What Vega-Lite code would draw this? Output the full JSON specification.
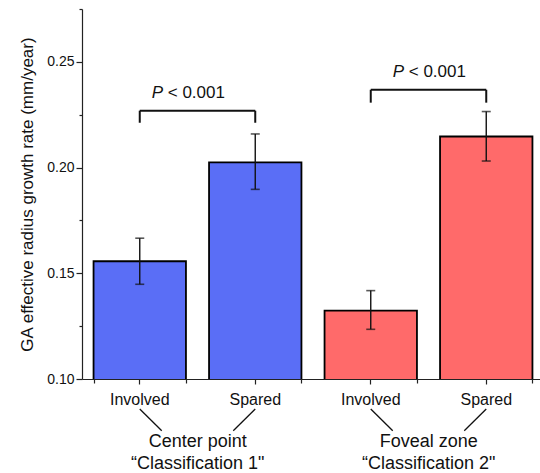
{
  "$schema": "https://vega.github.io/schema/vega-lite/v6.json",
  "width": 462,
  "height": 370,
  "autosize": {"type": "none"},
  "padding": {"left": 82, "top": 9, "right": 0, "bottom": 94},
  "background": "white",
  "config": {"view": {"stroke": null}, "font": "Liberation Sans"},
  "datasets": {
    "bars": [
      {"key": "C1 Involved", "group": "C1", "rate": 0.1557, "lo": 0.1448, "hi": 0.1666},
      {"key": "C1 Spared", "group": "C1", "rate": 0.2025, "lo": 0.1897, "hi": 0.2159},
      {"key": "C2 Involved", "group": "C2", "rate": 0.1323, "lo": 0.1235, "hi": 0.1418},
      {"key": "C2 Spared", "group": "C2", "rate": 0.2147, "lo": 0.2031, "hi": 0.2265}
    ],
    "brackets": [
      {"a": "C1 Involved", "b": "C1 Spared", "ytop": 0.2269, "yend": 0.2212, "ytext": 0.2352},
      {"a": "C2 Involved", "b": "C2 Spared", "ytop": 0.2368, "yend": 0.2307, "ytext": 0.2451}
    ],
    "groups": [
      {"a": "C1 Involved", "b": "C1 Spared", "line1": "Center point", "line2": "\u201cClassification 1\"", "y1": 0.0858, "y2": 0.0755, "yl1": 0.0703, "yl2": 0.0598},
      {"a": "C2 Involved", "b": "C2 Spared", "line1": "Foveal zone", "line2": "\u201cClassification 2\"", "y1": 0.0858, "y2": 0.0755, "yl1": 0.0703, "yl2": 0.0598}
    ]
  },
  "resolve": {"axis": {"x": "independent"}},
  "layer": [
    {
      "data": {"name": "bars"},
      "mark": {"type": "bar", "stroke": "black", "strokeWidth": 1.8, "clip": true},
      "encoding": {
        "x": {
          "field": "key", "type": "nominal", "sort": null,
          "scale": {"domain": ["C1 Involved", "C1 Spared", "C2 Involved", "C2 Spared"], "paddingInner": 0.2, "paddingOuter": 0.1},
          "axis": {
            "title": null, "labelAngle": 0, "labelExpr": "split(datum.label, ' ')[1]", "orient": "bottom",
            "labelFontSize": 16, "labelColor": "#111", "labelPadding": 7,
            "tickSize": 5, "tickColor": "#222", "domainColor": "#222", "domainWidth": 1.2, "tickWidth": 1.2
          }
        },
        "y": {
          "field": "rate", "type": "quantitative",
          "scale": {"domain": [0.1, 0.275], "zero": false, "nice": false},
          "axis": {
            "title": "GA effective radius growth rate (mm/year)", "titleFontSize": 17, "titleFontWeight": "normal",
            "titleColor": "#111", "titlePadding": 10, "orient": "left",
            "values": [0.1, 0.125, 0.15, 0.175, 0.2, 0.225, 0.25, 0.275], "format": ".2f",
            "labelExpr": "round(datum.value * 1000) % 50 === 0 ? format(datum.value, '.2f') : ''",
            "labelFontSize": 14, "labelColor": "#111",
            "tickSize": {"condition": {"test": "round(datum.value * 1000) % 50 === 0", "value": 6}, "value": 3},
            "tickColor": "#222", "domainColor": "#222", "domainWidth": 1.2, "tickWidth": 1.2, "grid": false
          }
        },
        "color": {
          "field": "group", "type": "nominal",
          "scale": {"domain": ["C1", "C2"], "range": ["#5a6ef6", "#ff6a6a"]},
          "legend": null
        }
      }
    },
    {
      "data": {"name": "bars"},
      "mark": {"type": "rule", "color": "#111", "strokeWidth": 1.4},
      "encoding": {
        "x": {"field": "key", "type": "nominal", "sort": null, "axis": {"title": null, "labels": false, "domain": false, "tickBand": "extent", "tickSize": 4, "tickColor": "#222", "tickWidth": 1.2, "orient": "bottom"}},
        "y": {"field": "lo", "type": "quantitative"},
        "y2": {"field": "hi"}
      }
    },
    {
      "data": {"name": "bars"},
      "mark": {"type": "tick", "orient": "horizontal", "size": 9, "thickness": 1.6, "color": "#111"},
      "encoding": {
        "x": {"field": "key", "type": "nominal", "sort": null, "axis": null},
        "y": {"field": "hi", "type": "quantitative"}
      }
    },
    {
      "data": {"name": "bars"},
      "mark": {"type": "tick", "orient": "horizontal", "size": 9, "thickness": 1.6, "color": "#111"},
      "encoding": {
        "x": {"field": "key", "type": "nominal", "sort": null, "axis": null},
        "y": {"field": "lo", "type": "quantitative"}
      }
    },
    {
      "data": {"name": "brackets"},
      "mark": {"type": "rule", "color": "#111", "strokeWidth": 2},
      "encoding": {
        "x": {"field": "a", "type": "nominal", "axis": null},
        "x2": {"field": "b"},
        "y": {"field": "ytop", "type": "quantitative"}
      }
    },
    {
      "data": {"name": "brackets"},
      "mark": {"type": "rule", "color": "#111", "strokeWidth": 2},
      "encoding": {
        "x": {"field": "a", "type": "nominal", "axis": null},
        "y": {"field": "ytop", "type": "quantitative"},
        "y2": {"field": "yend"}
      }
    },
    {
      "data": {"name": "brackets"},
      "mark": {"type": "rule", "color": "#111", "strokeWidth": 2},
      "encoding": {
        "x": {"field": "b", "type": "nominal", "axis": null},
        "y": {"field": "ytop", "type": "quantitative"},
        "y2": {"field": "yend"}
      }
    },
    {
      "data": {"name": "brackets"},
      "transform": [{"filter": "datum.a === 'C1 Involved'"}],
      "mark": {"type": "text", "text": "P", "fontStyle": "italic", "fontSize": 17, "align": "left", "baseline": "middle", "dx": 12, "color": "#111"},
      "encoding": {
        "x": {"field": "a", "type": "nominal", "axis": null},
        "y": {"field": "ytext", "type": "quantitative"}
      }
    },
    {
      "data": {"name": "brackets"},
      "transform": [{"filter": "datum.a === 'C1 Involved'"}],
      "mark": {"type": "text", "text": "< 0.001", "fontSize": 17, "align": "left", "baseline": "middle", "dx": 28, "color": "#111"},
      "encoding": {
        "x": {"field": "a", "type": "nominal", "axis": null},
        "y": {"field": "ytext", "type": "quantitative"}
      }
    },
    {
      "data": {"name": "brackets"},
      "transform": [{"filter": "datum.a === 'C2 Involved'"}],
      "mark": {"type": "text", "text": "P", "fontStyle": "italic", "fontSize": 17, "align": "left", "baseline": "middle", "dx": 22, "color": "#111"},
      "encoding": {
        "x": {"field": "a", "type": "nominal", "axis": null},
        "y": {"field": "ytext", "type": "quantitative"}
      }
    },
    {
      "data": {"name": "brackets"},
      "transform": [{"filter": "datum.a === 'C2 Involved'"}],
      "mark": {"type": "text", "text": "< 0.001", "fontSize": 17, "align": "left", "baseline": "middle", "dx": 38, "color": "#111"},
      "encoding": {
        "x": {"field": "a", "type": "nominal", "axis": null},
        "y": {"field": "ytext", "type": "quantitative"}
      }
    },
    {
      "data": {"name": "groups"},
      "mark": {"type": "rule", "color": "#111", "strokeWidth": 1.3, "x2Offset": 22},
      "encoding": {
        "x": {"field": "a", "type": "nominal", "axis": null},
        "x2": {"field": "a"},
        "y": {"field": "y1", "type": "quantitative"},
        "y2": {"field": "y2"}
      }
    },
    {
      "data": {"name": "groups"},
      "mark": {"type": "rule", "color": "#111", "strokeWidth": 1.3, "x2Offset": -22},
      "encoding": {
        "x": {"field": "b", "type": "nominal", "axis": null},
        "x2": {"field": "b"},
        "y": {"field": "y1", "type": "quantitative"},
        "y2": {"field": "y2"}
      }
    },
    {
      "data": {"name": "groups"},
      "mark": {"type": "text", "fontSize": 18, "align": "center", "baseline": "middle", "dx": 58, "color": "#111"},
      "encoding": {
        "x": {"field": "a", "type": "nominal", "axis": null},
        "y": {"field": "yl1", "type": "quantitative"},
        "text": {"field": "line1"}
      }
    },
    {
      "data": {"name": "groups"},
      "mark": {"type": "text", "fontSize": 18, "align": "center", "baseline": "middle", "dx": 58, "color": "#111"},
      "encoding": {
        "x": {"field": "a", "type": "nominal", "axis": null},
        "y": {"field": "yl2", "type": "quantitative"},
        "text": {"field": "line2"}
      }
    }
  ]
}
